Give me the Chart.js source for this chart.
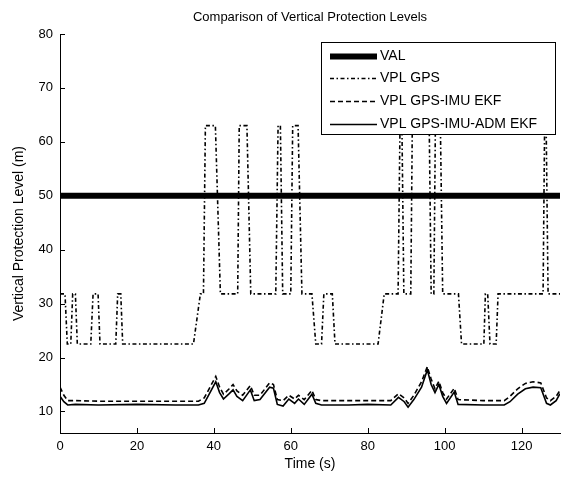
<!DOCTYPE html>
<html>
<head>
<meta charset="utf-8">
<script src="https://cdn.jsdelivr.net/npm/chart.js@4/dist/chart.umd.min.js"></script>
<style>
  html, body { margin: 0; padding: 0; background: #fff; }
  canvas { display: block; }
</style>
</head>
<body>
<canvas id="c" width="561" height="477"></canvas>
<script>
// ---------- DATA ----------
const chartTitle = 'Comparison of Vertical Protection Levels';
const xAxisTitle = 'Time (s)';
const yAxisTitle = 'Vertical Protection Level (m)';
const xTicks = [0, 20, 40, 60, 80, 100, 120];
const yTicks = [10, 20, 30, 40, 50, 60, 70, 80];
const seriesLabels = ['VAL', 'VPL GPS', 'VPL GPS-IMU EKF', 'VPL GPS-IMU-ADM EKF'];

const valTimes = [0, 130];
const valValues = [50, 50];

const gpsTimes = [0, 1.3, 1.9, 2.8, 3.3, 4.0, 4.5, 8.0, 8.6, 9.9, 10.4, 14.5, 15.0, 15.8, 16.3,
  34.7, 36.5, 37.3, 37.8, 40.4, 41.7, 46.2, 46.6, 48.6, 49.6, 56.1, 56.7, 57.3, 57.9,
  60.0, 60.5, 61.9, 62.9, 65.5, 66.5, 68.0, 68.6, 70.8, 71.5, 82.7, 84.3, 87.9, 88.4,
  88.9, 89.4, 91.2, 91.6, 96.0, 96.5, 97.2, 97.6, 98.9, 99.5, 103.6, 104.4, 110.2,
  110.6, 111.2, 111.8, 113.4, 113.9, 125.6, 126.0, 126.4, 126.9, 130];
const gpsValues = [31.8, 31.8, 22.5, 22.5, 31.8, 31.8, 22.5, 22.5, 31.8, 31.8, 22.5, 22.5, 31.8, 31.8, 22.5,
  22.5, 31.8, 31.8, 63, 63, 31.8, 31.8, 63, 63, 31.8, 31.8, 63, 63, 31.8,
  31.8, 63, 63, 31.8, 31.8, 22.5, 22.5, 31.8, 31.8, 22.5, 22.5, 31.8, 31.8, 63,
  63, 31.8, 31.8, 63, 63, 31.8, 31.8, 63, 63, 31.8, 31.8, 22.5, 22.5,
  31.8, 31.8, 22.5, 22.5, 31.8, 31.8, 63, 63, 31.8, 31.8];

const ekfTimes = [0, 1, 2, 4, 10, 20, 30, 36, 37.5, 39, 40.5, 41.5, 42.5, 44, 45, 46, 47.5, 49.5,
  50.5, 52, 54.5, 55.5, 56.5, 58, 59.5, 61, 62, 63.5, 65.5, 66.5, 68, 75, 80, 86, 88, 89.5,
  90.5, 92, 94, 95.5, 96.5, 97.5, 98.5, 99.5, 100.5, 102.5, 103.5, 110, 115.5, 117, 119,
  121, 123, 125, 126.5, 127.5, 129, 130];
const imuValues = [14.5, 13.0, 12.0, 12.0, 11.9, 11.9, 11.9, 11.9, 12.5, 14.5, 16.5, 14.5, 13.2, 14.2, 15.0, 13.8, 13.0, 14.8,
  13.0, 13.0, 15.3, 15.0, 12.2, 12.0, 13.0, 12.3, 13.0, 12.2, 13.9, 12.2, 12.0, 12.0, 12.0, 12.0, 13.3, 12.5,
  11.5, 13.0, 15.5, 18.3, 16.0, 14.2, 15.6, 13.5, 12.3, 14.3, 12.2, 12.0, 12.0, 12.8, 14.2,
  15.2, 15.5, 15.3, 12.5, 12.0, 12.8, 13.9];
const admValues = [12.8, 11.8, 11.2, 11.3, 11.2, 11.3, 11.2, 11.2, 11.5, 13.5, 15.5, 13.5, 12.3, 13.3, 14.0, 12.8, 12.0, 14.0,
  12.0, 12.2, 14.5, 14.3, 11.3, 11.0, 12.3, 11.5, 12.3, 11.3, 13.2, 11.5, 11.2, 11.2, 11.3, 11.2, 12.6, 11.8,
  10.8, 12.2, 14.5, 17.7, 15.0, 13.5, 15.0, 12.8, 11.5, 13.6, 11.3, 11.2, 11.2, 11.8, 13.2,
  14.2, 14.5, 14.4, 11.5, 11.2, 12.0, 13.3];

// ---------- CHART ----------
const pts = (xs, ys) => xs.map((x, i) => ({ x: x, y: ys[i] }));
const FONT = '"Liberation Sans", Arial, Helvetica, sans-serif';

const innerTicks = {
  id: 'innerTicks',
  afterDraw(chart) {
    const { ctx, chartArea: a, scales: { x, y } } = chart;
    ctx.save();
    ctx.strokeStyle = '#000';
    ctx.lineWidth = 1;
    ctx.beginPath();
    xTicks.forEach(v => {
      const px = Math.round(x.getPixelForValue(v)) + 0.5;
      ctx.moveTo(px, a.bottom); ctx.lineTo(px, a.bottom - 5);
    });
    yTicks.forEach(v => {
      const py = Math.round(y.getPixelForValue(v)) + 0.5;
      ctx.moveTo(a.left, py); ctx.lineTo(a.left + 5, py);
    });
    ctx.stroke();
    // title centred over the plot
    ctx.fillStyle = '#000';
    ctx.font = '13px ' + FONT;
    ctx.textAlign = 'center';
    ctx.textBaseline = 'middle';
    ctx.fillText(chartTitle, (a.left + a.right) / 2, 17);
    ctx.restore();
  }
};

const boxLegend = {
  id: 'boxLegend',
  afterDraw(chart) {
    const { ctx } = chart;
    const bx = 321.5, by = 42.5, bw = 234, bh = 92;
    ctx.save();
    ctx.fillStyle = '#fff';
    ctx.fillRect(bx, by, bw, bh);
    ctx.strokeStyle = '#000';
    ctx.lineWidth = 1;
    ctx.setLineDash([]);
    ctx.strokeRect(bx, by, bw, bh);
    ctx.font = '14px ' + FONT;
    ctx.textAlign = 'left';
    ctx.textBaseline = 'middle';
    ctx.fillStyle = '#000';
    chart.data.datasets.forEach((ds, i) => {
      const yy = Math.round(by + 13 + i * 22.7) + 0.5;
      ctx.beginPath();
      ctx.lineWidth = ds.borderWidth;
      ctx.setLineDash(ds.borderDash || []);
      ctx.moveTo(330, yy); ctx.lineTo(377, yy);
      ctx.stroke();
      ctx.setLineDash([]);
      ctx.fillText(ds.label, 380, yy);
    });
    ctx.restore();
  }
};

new Chart(document.getElementById('c'), {
  type: 'line',
  data: {
    datasets: [
      { label: seriesLabels[0], data: pts(valTimes, valValues), borderColor: '#000', borderWidth: 6, pointRadius: 0 },
      { label: seriesLabels[1], data: pts(gpsTimes, gpsValues), borderColor: '#000', borderWidth: 1.6, borderDash: [4, 2.5, 1.5, 2.5], pointRadius: 0 },
      { label: seriesLabels[2], data: pts(ekfTimes, imuValues), borderColor: '#000', borderWidth: 1.6, borderDash: [5, 3], pointRadius: 0 },
      { label: seriesLabels[3], data: pts(ekfTimes, admValues), borderColor: '#000', borderWidth: 1.6, pointRadius: 0 }
    ]
  },
  options: {
    responsive: false,
    animation: false,
    devicePixelRatio: 1,
    layout: { padding: { top: 34, right: 1, left: 0, bottom: 0 } },
    plugins: { legend: { display: false }, title: { display: false }, tooltip: { enabled: false } },
    elements: { line: { tension: 0 } },
    scales: {
      x: {
        type: 'linear', min: 0, max: 130,
        afterFit(s) { s.height = 44; },
        afterBuildTicks(s) { s.ticks = xTicks.map(v => ({ value: v })); },
        grid: { display: false, drawTicks: false },
        border: { display: true, color: '#000', width: 1 },
        ticks: { color: '#000', padding: 6, font: { family: FONT, size: 13 }, maxRotation: 0, autoSkip: false },
        title: { display: true, text: xAxisTitle, color: '#000', font: { family: FONT, size: 14 }, padding: { top: 0, bottom: 4 } }
      },
      y: {
        type: 'linear', min: 6, max: 80,
        afterFit(s) { s.width = 60; },
        afterBuildTicks(s) { s.ticks = yTicks.map(v => ({ value: v })); },
        grid: { display: false, drawTicks: false },
        border: { display: true, color: '#000', width: 1 },
        ticks: { color: '#000', padding: 7, font: { family: FONT, size: 13 }, autoSkip: false },
        title: { display: true, text: yAxisTitle, color: '#000', font: { family: FONT, size: 14 }, padding: { top: 11, bottom: 0 } }
      }
    }
  },
  plugins: [innerTicks, boxLegend]
});
</script>
</body>
</html>
